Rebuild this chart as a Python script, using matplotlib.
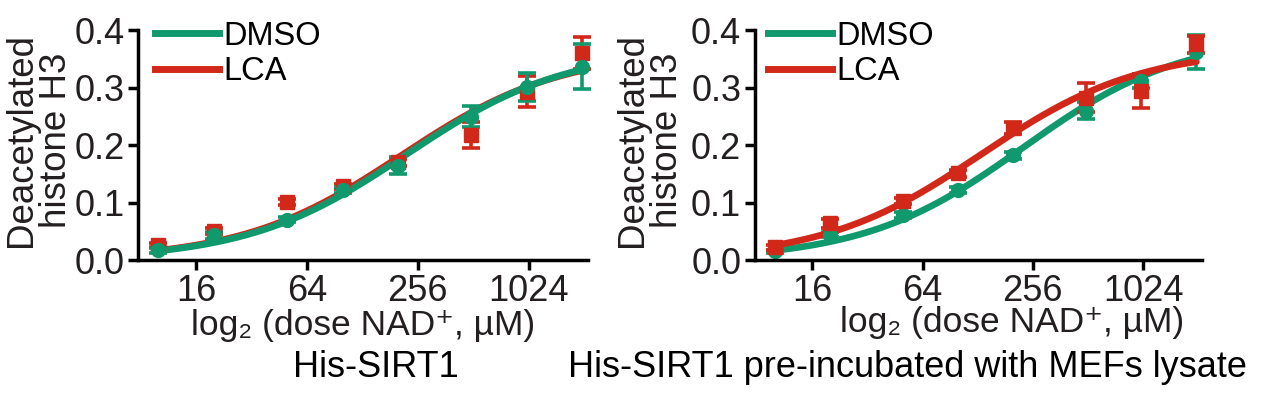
import numpy as np
import matplotlib
matplotlib.use('Agg')
import matplotlib.pyplot as plt
from matplotlib.lines import Line2D

plt.rcParams['font.family'] = ['Liberation Sans', 'DejaVu Sans']

# NAD+ doses (uM)
dose = [10, 20, 50, 100, 200, 500, 1000, 2000]

# His-SIRT1
left_dmso = [0.017, 0.043, 0.070, 0.122, 0.164, 0.249, 0.301, 0.336]
left_dmso_err = [0.004, 0.006, 0.004, 0.005, 0.015, 0.018, 0.024, 0.039]
left_lca = [0.026, 0.050, 0.101, 0.128, 0.170, 0.217, 0.293, 0.360]
left_lca_err = [0.004, 0.005, 0.005, 0.005, 0.006, 0.023, 0.027, 0.027]

# His-SIRT1 pre-incubated with MEFs lysate
right_dmso = [0.015, 0.044, 0.078, 0.122, 0.182, 0.260, 0.312, 0.362]
right_dmso_err = [0.003, 0.004, 0.005, 0.005, 0.006, 0.014, 0.012, 0.030]
right_lca = [0.022, 0.064, 0.102, 0.151, 0.230, 0.282, 0.294, 0.375]
right_lca_err = [0.004, 0.008, 0.005, 0.006, 0.010, 0.025, 0.030, 0.015]

xticks = [16, 64, 256, 1024]
titles = ['His-SIRT1', 'His-SIRT1 pre-incubated with MEFs lysate']

GREEN = '#11996e'
RED = '#d2281a'
TXT = '#231f20'


def mm_fit(x, y):
    # Michaelis-Menten fit, Vmax solved in closed form for each Km
    x = np.asarray(x, float)
    y = np.asarray(y, float)
    best = None
    for km in np.logspace(0, 4, 4000):
        f = x / (km + x)
        vmax = np.dot(f, y) / np.dot(f, f)
        err = np.sum((y - vmax * f) ** 2)
        if best is None or err < best[0]:
            best = (err, vmax, km)
    return best[1], best[2]


def draw_series(ax, y, yerr, color, marker):
    vmax, km = mm_fit(dose, y)
    xx = np.logspace(np.log2(dose[0]), np.log2(dose[-1]), 300, base=2)
    ax.plot(xx, vmax * xx / (km + xx), color=color, lw=4.8, solid_capstyle='round')
    ax.errorbar(dose, y, yerr=yerr, fmt=marker, color=color, ms=10, lw=2.6,
                capsize=6.5, capthick=2.6, clip_on=False)


fig = plt.figure(figsize=(12.82, 3.93), dpi=100)
ax1 = fig.add_axes([0.108, 0.3384, 0.3506, 0.5852])
ax2 = fig.add_axes([0.589, 0.3384, 0.3487, 0.5852])

draw_series(ax1, left_lca, left_lca_err, RED, 's')
draw_series(ax1, left_dmso, left_dmso_err, GREEN, 'o')
draw_series(ax2, right_dmso, right_dmso_err, GREEN, 'o')
draw_series(ax2, right_lca, right_lca_err, RED, 's')

for ax, lab_x, leg_x in ((ax1, -0.143, 0.037), (ax2, -0.156, 0.029)):
    ax.set_xscale('log', base=2)
    ax.set_xlim(7.8, 2150)
    ax.set_ylim(0, 0.4)
    ax.set_xticks(xticks)
    ax.set_xticklabels([str(t) for t in xticks])
    ax.minorticks_off()
    ax.set_yticks([0.0, 0.1, 0.2, 0.3, 0.4])
    ax.set_yticklabels(['0.0', '0.1', '0.2', '0.3', '0.4'])
    for s in ('top', 'right'):
        ax.spines[s].set_visible(False)
    for s in ('left', 'bottom'):
        ax.spines[s].set_linewidth(2.5)
    ax.tick_params(width=2.5, length=7, labelsize=26, colors='black',
                   labelcolor=TXT, pad=3)
    ax.set_ylabel('Deacetylated\nhistone H3', fontsize=26.5, linespacing=1.0,
                  color=TXT)
    ax.yaxis.set_label_coords(lab_x, 0.52)
    ax.set_xlabel('log\u2082 (dose NAD\u207a, \u00b5M)', fontsize=25.5,
                  color=TXT, labelpad=0)
    handles = [Line2D([], [], color=GREEN, lw=5), Line2D([], [], color=RED, lw=5)]
    ax.legend(handles, ['DMSO', 'LCA'], loc='upper left', frameon=False,
              fontsize=23.5, handlelength=1.95, handletextpad=0.15,
              labelspacing=0.14, borderpad=0, borderaxespad=0,
              bbox_to_anchor=(leg_x, 1.04))

ax2.xaxis.set_label_coords(0.575, -0.2)
fig.text(0.293, 0.04, titles[0], fontsize=26, ha='center', color='black')
fig.text(0.7075, 0.04, titles[1], fontsize=26, ha='center', color='black')

fig.savefig('out.png', dpi=100)
